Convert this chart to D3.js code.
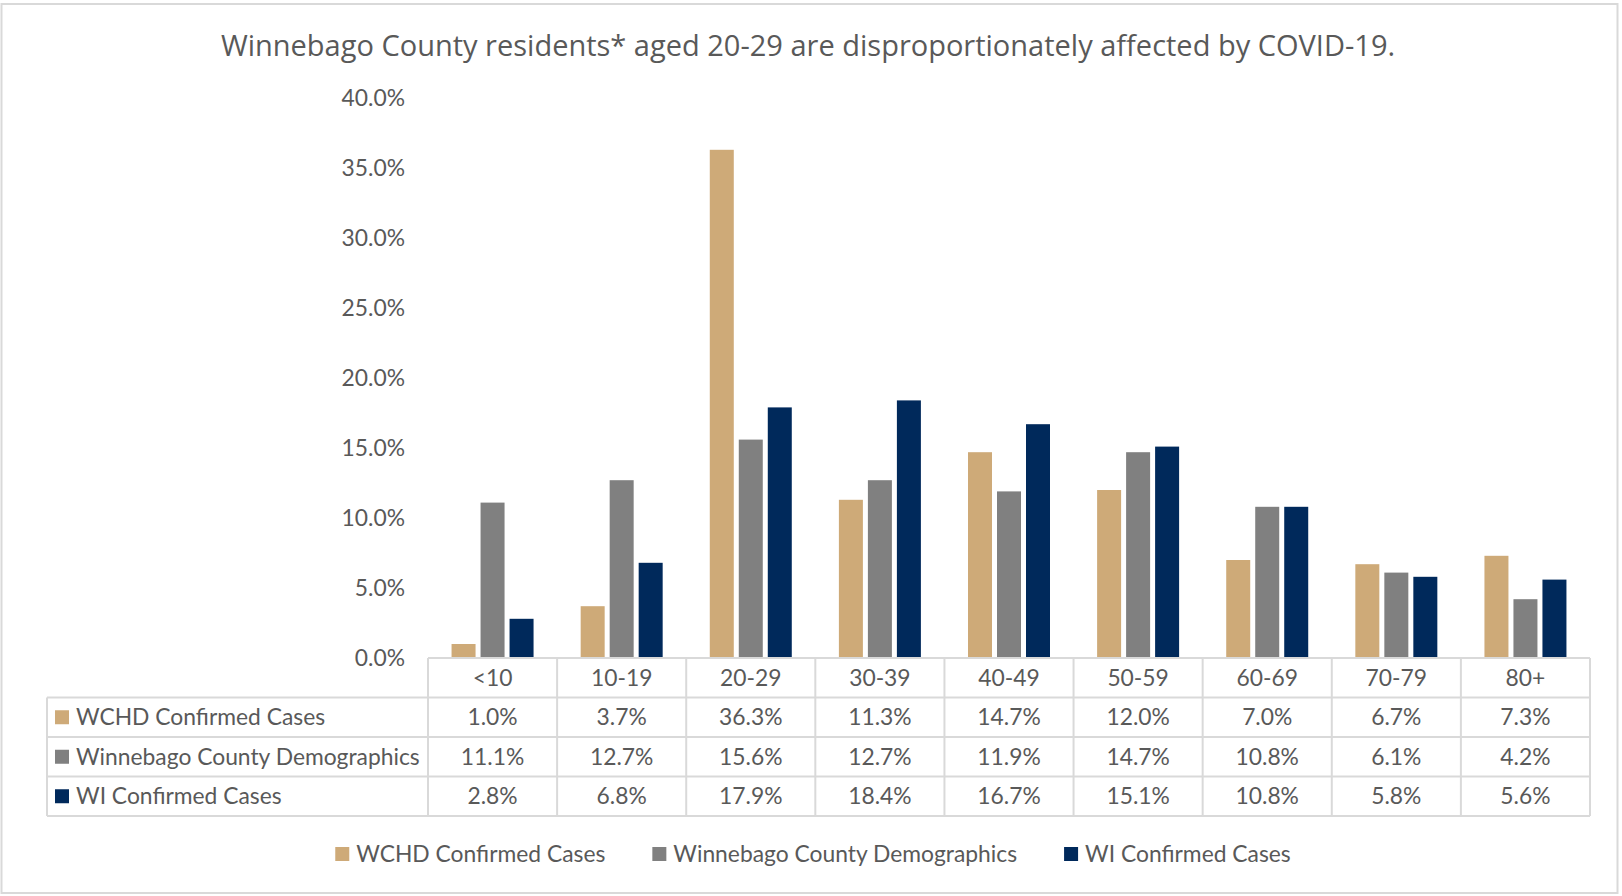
<!DOCTYPE html>
<html>
<head>
<meta charset="utf-8">
<script src="https://cdnjs.cloudflare.com/ajax/libs/d3/7.8.5/d3.min.js"></script>
<style>
  body { margin: 0; background: #fff; }
  text { fill: #595959; }
</style>
</head>
<body>
<div id="chart"></div>
<script>
// Data
var ageGroups = ['<10', '10-19', '20-29', '30-39', '40-49', '50-59', '60-69', '70-79', '80+'];
var seriesNames = ['WCHD Confirmed Cases', 'Winnebago County Demographics', 'WI Confirmed Cases'];
var wchdCases = [1.0, 3.7, 36.3, 11.3, 14.7, 12.0, 7.0, 6.7, 7.3];
var countyDemographics = [11.1, 12.7, 15.6, 12.7, 11.9, 14.7, 10.8, 6.1, 4.2];
var wiCases = [2.8, 6.8, 17.9, 18.4, 16.7, 15.1, 10.8, 5.8, 5.6];
var yTicks = [0, 5, 10, 15, 20, 25, 30, 35, 40];
var titleText = 'Winnebago County residents* aged 20-29 are disproportionately affected by COVID-19.';

var seriesValues = [wchdCases, countyDemographics, wiCases];
var seriesColors = ['#CEAA78', '#808080', '#00295B'];

var W = 1622, H = 896;
var bodyFont = 'Lato, "Open Sans", sans-serif';
var titleFont = '"Open Sans", "Noto Sans", sans-serif';
var gridColor = '#d9d9d9';

var svg = d3.select('#chart').append('svg')
    .attr('width', W)
    .attr('height', H);

// find a font size so a sample string gets a given width
function fitSize(str, family, target){
  var t = svg.append('text').attr('font-family', family).attr('font-size', 20).text(str);
  var w = t.node().getComputedTextLength();
  t.remove();
  return 20 * target / w;
}

var labelSize = fitSize('Winnebago County Demographics', bodyFont, 344);
var titleSize = fitSize(titleText, titleFont, 1175);

// outer frame
svg.append('rect')
    .attr('x', 1.5).attr('y', 4)
    .attr('width', 1616).attr('height', 889)
    .attr('fill', '#fff')
    .attr('stroke', gridColor)
    .attr('stroke-width', 2);

svg.append('text')
    .attr('x', 808).attr('y', 56)
    .attr('text-anchor', 'middle')
    .attr('font-family', titleFont)
    .attr('font-size', titleSize)
    .text(titleText);

// scales
var x = d3.scaleBand().domain(ageGroups).range([428, 1590]).padding(0);
var groupWidth = 82;
var xInner = d3.scaleBand().domain(d3.range(3)).range([0, groupWidth]).paddingInner(5 / 29);
var y = d3.scaleLinear().domain([0, 40]).range([658, 98]);

// y axis (labels only)
var yAxis = d3.axisLeft(y)
    .tickValues(yTicks)
    .tickFormat(function(d){ return d.toFixed(1) + '%'; })
    .tickSize(0)
    .tickPadding(0);

var yg = svg.append('g')
    .attr('transform', 'translate(405,0)')
    .call(yAxis);
yg.select('.domain').remove();
yg.selectAll('text')
    .attr('font-family', bodyFont)
    .attr('font-size', labelSize)
    .attr('fill', '#595959');

// bars
var groups = svg.append('g').selectAll('g')
    .data(ageGroups)
    .enter()
    .append('g')
    .attr('transform', function(d){ return 'translate(' + (x(d) + (x.bandwidth() - groupWidth) / 2) + ',0)'; });

groups.selectAll('rect')
    .data(function(d, i){ return seriesValues.map(function(s, k){ return {k: k, v: s[i]}; }); })
    .enter()
    .append('rect')
    .attr('x', function(d){ return xInner(d.k); })
    .attr('y', function(d){ return y(d.v); })
    .attr('width', xInner.bandwidth())
    .attr('height', function(d){ return y(0) - y(d.v); })
    .attr('fill', function(d){ return seriesColors[d.k]; });

// data table
var tableTop = 658, rowH = 39.5, tableLeft = 47;
var rowY = function(r){ return tableTop + r * rowH; };
var tbl = svg.append('g').attr('stroke', gridColor).attr('stroke-width', 2);

// horizontal lines
tbl.append('line').attr('x1', x.range()[0]).attr('x2', x.range()[1]).attr('y1', rowY(0)).attr('y2', rowY(0));
[1, 2, 3, 4].forEach(function(r){
  tbl.append('line').attr('x1', tableLeft).attr('x2', x.range()[1]).attr('y1', rowY(r)).attr('y2', rowY(r));
});
// vertical lines
tbl.append('line').attr('x1', tableLeft).attr('x2', tableLeft).attr('y1', rowY(1)).attr('y2', rowY(4));
ageGroups.concat(['end']).forEach(function(d, i){
  var xx = i < ageGroups.length ? x(d) : x.range()[1];
  tbl.append('line').attr('x1', xx).attr('x2', xx).attr('y1', rowY(0)).attr('y2', rowY(4));
});

// header row (category labels)
svg.append('g').selectAll('text')
    .data(ageGroups)
    .enter()
    .append('text')
    .attr('x', function(d){ return x(d) + x.bandwidth() / 2; })
    .attr('y', rowY(0.5))
    .attr('dy', '0.35em')
    .attr('text-anchor', 'middle')
    .attr('font-family', bodyFont)
    .attr('font-size', labelSize)
    .text(function(d){ return d; });

// series rows
seriesNames.forEach(function(name, k){
  var cy = rowY(k + 1.5);
  svg.append('rect')
      .attr('x', 55).attr('y', cy - 7)
      .attr('width', 14).attr('height', 14)
      .attr('fill', seriesColors[k]);
  svg.append('text')
      .attr('x', 76).attr('y', cy)
      .attr('dy', '0.35em')
      .attr('font-family', bodyFont)
      .attr('font-size', labelSize)
      .text(name);
  svg.append('g').selectAll('text')
      .data(seriesValues[k])
      .enter()
      .append('text')
      .attr('x', function(d, i){ return x(ageGroups[i]) + x.bandwidth() / 2; })
      .attr('y', cy)
      .attr('dy', '0.35em')
      .attr('text-anchor', 'middle')
      .attr('font-family', bodyFont)
      .attr('font-size', labelSize)
      .text(function(d){ return d.toFixed(1) + '%'; });
});

// legend at the bottom
var legend = svg.append('g');
var legendGap = 47;
var lx = 0;
seriesNames.forEach(function(name, k){
  var item = legend.append('g').attr('transform', 'translate(' + lx + ',0)');
  item.append('rect')
      .attr('x', 0).attr('y', -7)
      .attr('width', 14).attr('height', 14)
      .attr('fill', seriesColors[k]);
  var t = item.append('text')
      .attr('x', 21).attr('y', 0)
      .attr('dy', '0.35em')
      .attr('font-family', bodyFont)
      .attr('font-size', labelSize)
      .text(name);
  lx += 21 + t.node().getComputedTextLength() + legendGap;
});
var legendWidth = lx - legendGap;
legend.attr('transform', 'translate(' + (813 - legendWidth / 2) + ',854)');
</script>
</body>
</html>
